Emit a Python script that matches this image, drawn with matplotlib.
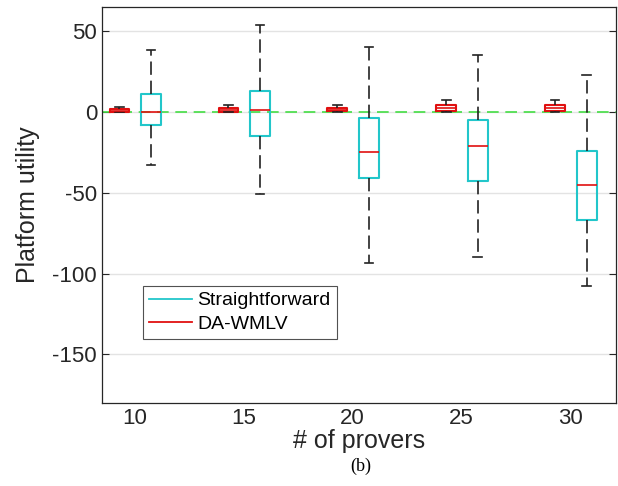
import numpy as np
import matplotlib.pyplot as plt
from matplotlib.lines import Line2D

# number of provers (x categories)
provers = [10, 15, 20, 25, 30]

# DA-WMLV box statistics
da_q1 = [0.0, 0.2, 0.3, 0.8, 0.8]
da_med = [0.8, 1.2, 1.2, 2.5, 2.5]
da_q3 = [1.8, 2.3, 2.5, 4.1, 4.1]
da_lo = [0.0, 0.0, 0.0, 0.0, 0.0]
da_hi = [3.0, 4.0, 4.5, 7.5, 7.5]

# Straightforward box statistics
sf_q1 = [-8.0, -15.0, -41.0, -42.5, -67.0]
sf_med = [0.0, 1.0, -25.0, -21.0, -45.0]
sf_q3 = [11.0, 13.0, -3.5, -5.0, -24.5]
sf_lo = [-33.0, -51.0, -93.5, -90.0, -108.0]
sf_hi = [38.0, 54.0, 40.0, 35.0, 23.0]

cyan = '#22c6ca'
red = '#e01010'

plt.rcParams['font.family'] = ['Liberation Sans', 'DejaVu Sans']
plt.rcParams['axes.unicode_minus'] = False


def make_stats(q1, med, q3, lo, hi):
    return [dict(q1=a, med=b, q3=c, whislo=d, whishi=e, fliers=[])
            for a, b, c, d, e in zip(q1, med, q3, lo, hi)]


fig = plt.figure(figsize=(6.18, 4.86), dpi=100)
ax = fig.add_axes([0.165, 0.171, 0.832, 0.815])

pos = np.arange(1, len(provers) + 1)

# zero reference line
ax.axhline(0, color='#44dd44', lw=1.2, dashes=(7, 4), zorder=1)

whisk = dict(color='#222222', lw=1.2, dashes=(8, 3.5))
caps = dict(color='#222222', lw=1.2)

ax.bxp(make_stats(da_q1, da_med, da_q3, da_lo, da_hi), positions=pos - 0.14,
       widths=0.18, showfliers=False,
       boxprops=dict(color=red, lw=1.5), medianprops=dict(color=red, lw=1.2),
       whiskerprops=whisk, capprops=caps, capwidths=0.08, manage_ticks=False)

ax.bxp(make_stats(sf_q1, sf_med, sf_q3, sf_lo, sf_hi), positions=pos + 0.15,
       widths=0.18, showfliers=False,
       boxprops=dict(color=cyan, lw=1.5), medianprops=dict(color=red, lw=1.2),
       whiskerprops=whisk, capprops=caps, capwidths=0.08, manage_ticks=False)

ax.set_xlim(0.7, 5.42)
ax.set_ylim(-180, 65)
ax.set_xticks(pos)
ax.set_xticklabels([str(p) for p in provers])
ax.set_yticks([50, 0, -50, -100, -150])
ax.yaxis.grid(True, color='#e3e3e3', lw=1)
ax.set_axisbelow(True)
ax.tick_params(direction='in', labelsize=16, colors='#262626', right=True,
               length=5, width=0.8)
ax.tick_params(axis='x', length=0)
for s in ax.spines.values():
    s.set_color('#262626')
    s.set_linewidth(0.9)

ax.set_xlabel('# of provers', fontsize=18, color='#262626', labelpad=0)
ax.set_ylabel('Platform utility', fontsize=18, color='#262626', labelpad=9)

handles = [Line2D([], [], color=cyan, lw=1.3), Line2D([], [], color=red, lw=1.3)]
leg = ax.legend(handles, ['Straightforward', 'DA-WMLV'], loc='upper left',
                bbox_to_anchor=(0.08, 0.295), fontsize=14, frameon=True,
                fancybox=False, edgecolor='#262626', handlelength=2.2,
                handletextpad=0.3, borderpad=0.3, labelspacing=0.3,
                borderaxespad=0)
leg.get_frame().set_linewidth(0.8)

fig.text(0.583, 0.03, '(b)', fontsize=13, family='Liberation Serif', ha='center')

fig.savefig('out.png', dpi=100)
